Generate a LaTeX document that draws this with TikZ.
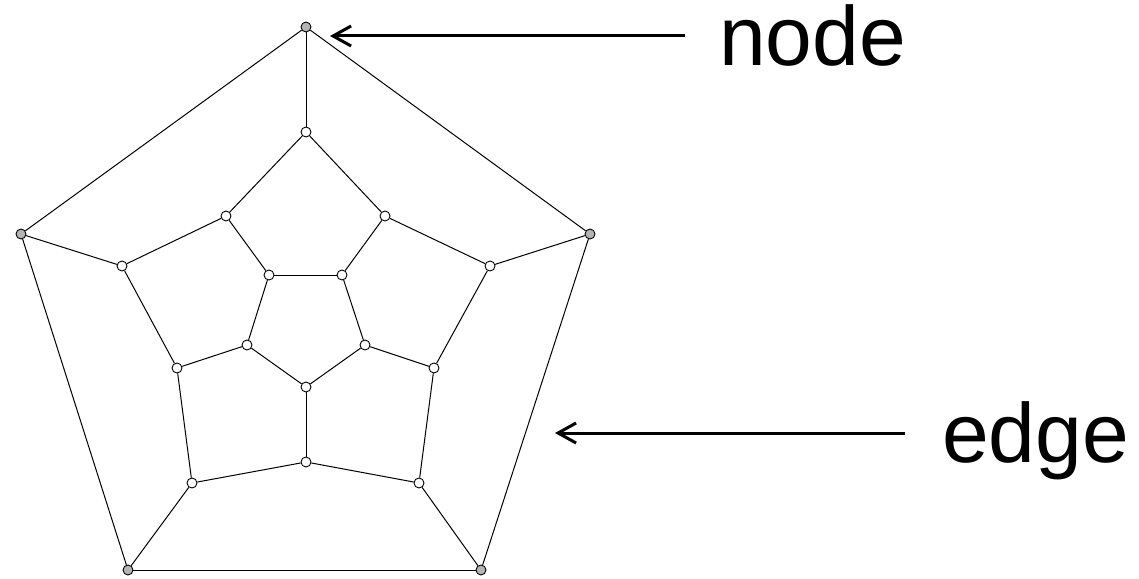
\documentclass[tikz,border=0pt]{standalone}
\usepackage{fontspec}
\setmainfont{Liberation Sans}
\usetikzlibrary{arrows.meta}
\definecolor{shade}{HTML}{B4B4B4}

\begin{document}
\begin{tikzpicture}[
      x=1pt, y=-1pt,
      every node/.style={font=\fontsize{84}{90}\selectfont},
      vtx/.style={draw, circle, fill=white, inner sep=0pt,
                  minimum size=10pt, line width=0.9pt},
      gvtx/.style={vtx, fill=shade},
      edg/.style={line width=1pt},
      lbl/.style={anchor=base west, inner sep=0pt},
      arr/.style={-{Straight Barb[length=18pt, width=20pt]}, line width=3pt}
  ]
    \useasboundingbox (0,0) rectangle (1139,578);

    % --- Outer pentagon ---
    \foreach \n/\x/\y in {o1/306/27, o2/590/234, o3/481/570, o4/128/570, o5/21/234}
      \node[gvtx] (\n) at (\x,\y) {};

    % --- Middle ring ---
    \foreach \n/\x/\y in {a1/306/132, a2/490/266, a3/419/483, a4/192/483, a5/122/266,
                          b1/385/216, b2/434/368, b3/306/462, b4/177/368, b5/226/216}
      \node[vtx] (\n) at (\x,\y) {};

    % --- Inner pentagon ---
    \foreach \n/\x/\y in {c1/342/275, c2/365/345, c3/306/387, c4/247/345, c5/269/275}
      \node[vtx] (\n) at (\x,\y) {};

    % edges
    \foreach \i/\j in {1/2, 2/3, 3/4, 4/5, 5/1} {
      \draw[edg] (o\i) -- (o\j);
      \draw[edg] (o\i) -- (a\i);
      \draw[edg] (a\i) -- (b\i);
      \draw[edg] (b\i) -- (a\j);
      \draw[edg] (b\i) -- (c\i);
      \draw[edg] (c\i) -- (c\j);
    }

    % --- Labels ---
    \node[lbl] (lblnode) at (719,66) {node};
    \node[lbl] (lbledge) at (942,462) {edge};

    \coordinate (nodetip) at (330,36);
    \coordinate (edgetip) at (555,433);
    \draw[arr, shorten <=34pt] (lblnode.base west |- nodetip) -- (nodetip);
    \draw[arr, shorten <=37pt] (lbledge.base west |- edgetip) -- (edgetip);

  \end{tikzpicture}
\end{document}
